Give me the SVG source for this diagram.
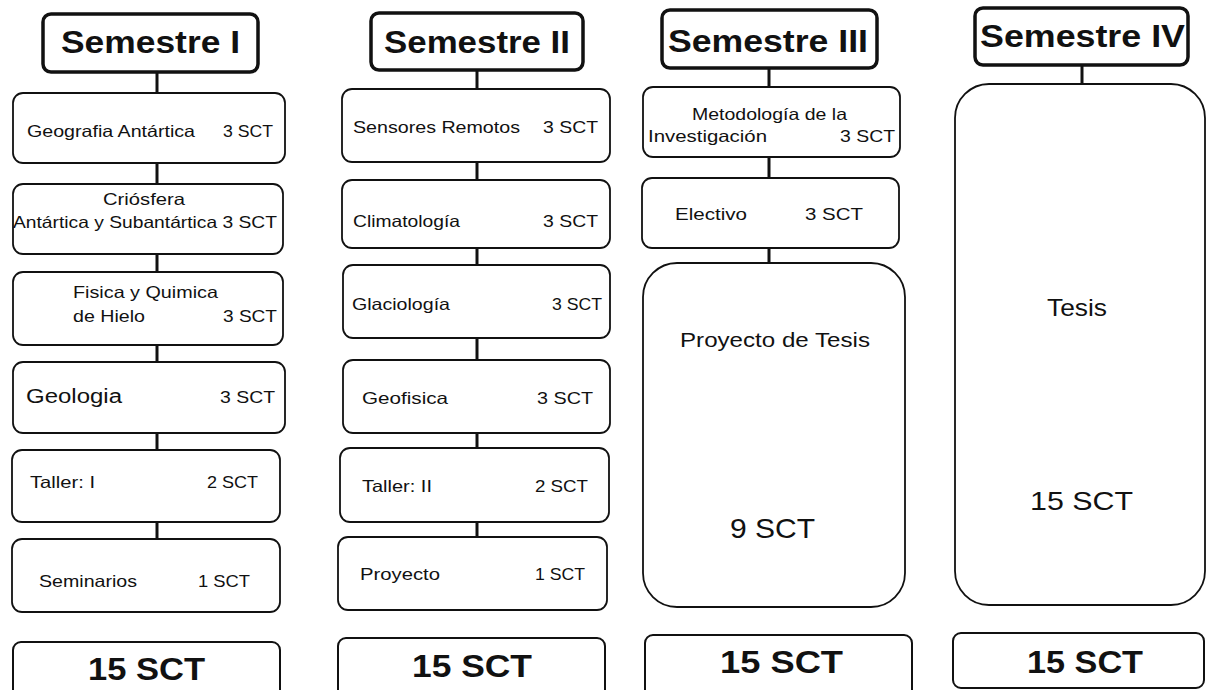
<svg xmlns="http://www.w3.org/2000/svg" width="1207" height="690" viewBox="0 0 1207 690">
<style>
text{font-family:"Liberation Sans",Arial,sans-serif;fill:#111}
.hdr{fill:#fff;stroke:#111;stroke-width:3.5}
.box{fill:#fff;stroke:#111;stroke-width:1.8}
.tot{fill:#fff;stroke:#111;stroke-width:2}
.h{font-size:31px;font-weight:bold}
.l{font-size:16.5px}
.m{font-size:19.5px}
.t{font-size:31px;font-weight:bold}
.conn line{stroke:#111;stroke-width:3}
</style>
<rect width="1207" height="690" fill="#fff"/>
<g class="conn">
<line x1="157" y1="72" x2="157" y2="93"/>
<line x1="157" y1="163" x2="157" y2="184"/>
<line x1="157" y1="254" x2="157" y2="272"/>
<line x1="157" y1="345" x2="157" y2="362"/>
<line x1="157" y1="433" x2="157" y2="450"/>
<line x1="157" y1="522" x2="157" y2="539"/>
<line x1="477" y1="70" x2="477" y2="89"/>
<line x1="477" y1="162" x2="477" y2="180"/>
<line x1="477" y1="248" x2="477" y2="265"/>
<line x1="477" y1="338" x2="477" y2="360"/>
<line x1="477" y1="433" x2="477" y2="448"/>
<line x1="477" y1="522" x2="477" y2="537"/>
<line x1="769" y1="68" x2="769" y2="87"/>
<line x1="769" y1="157" x2="769" y2="178"/>
<line x1="769" y1="248" x2="769" y2="263"/>
<line x1="1082" y1="65" x2="1082" y2="84"/>
</g>
<!-- Column 1 -->
<g id="sem1">
<rect class="hdr" x="43" y="14" width="215" height="58" rx="8"/>
<text class="h" x="61" y="53" textLength="179" lengthAdjust="spacingAndGlyphs">Semestre I</text>
</g>
<g id="c1n1">
<rect class="box" x="13" y="93" width="272" height="70" rx="10"/>
<text class="l" x="27" y="137" textLength="168" lengthAdjust="spacingAndGlyphs">Geografia Antártica</text>
<text class="l" x="223" y="137" textLength="50" lengthAdjust="spacingAndGlyphs">3 SCT</text>
</g>
<g id="c1n2">
<rect class="box" x="13" y="184" width="270" height="70" rx="10"/>
<text class="l" x="103" y="205" textLength="82" lengthAdjust="spacingAndGlyphs">Criósfera</text>
<text class="l" x="13" y="228" textLength="264" lengthAdjust="spacingAndGlyphs">Antártica y Subantártica 3 SCT</text>
</g>
<g id="c1n3">
<rect class="box" x="13" y="272" width="270" height="73" rx="10"/>
<text class="l" x="73" y="298" textLength="145" lengthAdjust="spacingAndGlyphs">Fisica y Quimica</text>
<text class="l" x="73" y="322" textLength="72" lengthAdjust="spacingAndGlyphs">de Hielo</text>
<text class="l" x="223" y="322" textLength="54" lengthAdjust="spacingAndGlyphs">3 SCT</text>
</g>
<g id="c1n4">
<rect class="box" x="13" y="362" width="272" height="71" rx="10"/>
<text class="m" x="26" y="403" textLength="96" lengthAdjust="spacingAndGlyphs">Geologia</text>
<text class="l" x="220" y="403" textLength="55" lengthAdjust="spacingAndGlyphs">3 SCT</text>
</g>
<g id="c1n5">
<rect class="box" x="12" y="450" width="268" height="72" rx="10"/>
<text class="l" x="30" y="488" textLength="65" lengthAdjust="spacingAndGlyphs">Taller: I</text>
<text class="l" x="207" y="488" textLength="51" lengthAdjust="spacingAndGlyphs">2 SCT</text>
</g>
<g id="c1n6">
<rect class="box" x="12" y="539" width="268" height="73" rx="10"/>
<text class="l" x="39" y="587" textLength="98" lengthAdjust="spacingAndGlyphs">Seminarios</text>
<text class="l" x="198" y="587" textLength="52" lengthAdjust="spacingAndGlyphs">1 SCT</text>
</g>
<g id="c1tot">
<rect class="tot" x="13" y="642" width="267" height="56" rx="8"/>
<text class="t" x="88" y="680" textLength="117" lengthAdjust="spacingAndGlyphs">15 SCT</text>
</g>
<!-- Column 2 -->
<g id="sem2">
<rect class="hdr" x="371" y="13" width="212" height="57" rx="8"/>
<text class="h" x="384" y="53" textLength="186" lengthAdjust="spacingAndGlyphs">Semestre II</text>
</g>
<g id="c2n1">
<rect class="box" x="342" y="89" width="268" height="73" rx="10"/>
<text class="l" x="353" y="133" textLength="167" lengthAdjust="spacingAndGlyphs">Sensores Remotos</text>
<text class="l" x="543" y="133" textLength="55" lengthAdjust="spacingAndGlyphs">3 SCT</text>
</g>
<g id="c2n2">
<rect class="box" x="342" y="180" width="268" height="68" rx="10"/>
<text class="l" x="353" y="227" textLength="107" lengthAdjust="spacingAndGlyphs">Climatología</text>
<text class="l" x="543" y="227" textLength="55" lengthAdjust="spacingAndGlyphs">3 SCT</text>
</g>
<g id="c2n3">
<rect class="box" x="343" y="265" width="267" height="73" rx="10"/>
<text class="l" x="352" y="310" textLength="98" lengthAdjust="spacingAndGlyphs">Glaciología</text>
<text class="l" x="552" y="310" textLength="50" lengthAdjust="spacingAndGlyphs">3 SCT</text>
</g>
<g id="c2n4">
<rect class="box" x="343" y="360" width="267" height="73" rx="10"/>
<text class="l" x="362" y="404" textLength="86" lengthAdjust="spacingAndGlyphs">Geofisica</text>
<text class="l" x="537" y="404" textLength="56" lengthAdjust="spacingAndGlyphs">3 SCT</text>
</g>
<g id="c2n5">
<rect class="box" x="340" y="448" width="269" height="74" rx="10"/>
<text class="l" x="362" y="492" textLength="70" lengthAdjust="spacingAndGlyphs">Taller: II</text>
<text class="l" x="535" y="492" textLength="53" lengthAdjust="spacingAndGlyphs">2 SCT</text>
</g>
<g id="c2n6">
<rect class="box" x="338" y="537" width="269" height="73" rx="10"/>
<text class="l" x="360" y="580" textLength="80" lengthAdjust="spacingAndGlyphs">Proyecto</text>
<text class="l" x="535" y="580" textLength="50" lengthAdjust="spacingAndGlyphs">1 SCT</text>
</g>
<g id="c2tot">
<rect class="tot" x="338" y="638" width="267" height="60" rx="8"/>
<text class="t" x="412" y="677" textLength="120" lengthAdjust="spacingAndGlyphs">15 SCT</text>
</g>
<!-- Column 3 -->
<g id="sem3">
<rect class="hdr" x="662" y="10" width="215" height="58" rx="8"/>
<text class="h" x="668" y="52" textLength="200" lengthAdjust="spacingAndGlyphs">Semestre III</text>
</g>
<g id="c3n1">
<rect class="box" x="643" y="87" width="257" height="70" rx="10"/>
<text class="l" x="692" y="120" textLength="155" lengthAdjust="spacingAndGlyphs">Metodología de la</text>
<text class="l" x="648" y="142" textLength="119" lengthAdjust="spacingAndGlyphs">Investigación</text>
<text class="l" x="840" y="142" textLength="55" lengthAdjust="spacingAndGlyphs">3 SCT</text>
</g>
<g id="c3n2">
<rect class="box" x="642" y="178" width="257" height="70" rx="10"/>
<text class="l" x="675" y="220" textLength="72" lengthAdjust="spacingAndGlyphs">Electivo</text>
<text class="l" x="805" y="220" textLength="58" lengthAdjust="spacingAndGlyphs">3 SCT</text>
</g>
<g id="c3n3">
<rect class="box" x="643" y="263" width="262" height="344" rx="34"/>
<text x="680" y="347" font-size="20" textLength="190" lengthAdjust="spacingAndGlyphs">Proyecto de Tesis</text>
<text x="730" y="538" font-size="28" textLength="85" lengthAdjust="spacingAndGlyphs">9 SCT</text>
</g>
<g id="c3tot">
<rect class="tot" x="645" y="635" width="267" height="63" rx="8"/>
<text class="t" x="720" y="673" textLength="123" lengthAdjust="spacingAndGlyphs">15 SCT</text>
</g>
<!-- Column 4 -->
<g id="sem4">
<rect class="hdr" x="975" y="8" width="213" height="57" rx="8"/>
<text class="h" x="980" y="47" textLength="205" lengthAdjust="spacingAndGlyphs">Semestre IV</text>
</g>
<g id="c4n1">
<rect class="box" x="955" y="84" width="250" height="521" rx="34"/>
<text x="1047" y="316" font-size="24" textLength="60" lengthAdjust="spacingAndGlyphs">Tesis</text>
<text x="1030" y="510" font-size="26" textLength="103" lengthAdjust="spacingAndGlyphs">15 SCT</text>
</g>
<g id="c4tot">
<rect class="tot" x="953" y="633" width="251" height="55" rx="8"/>
<text class="t" x="1027" y="673" textLength="116" lengthAdjust="spacingAndGlyphs">15 SCT</text>
</g>
</svg>
